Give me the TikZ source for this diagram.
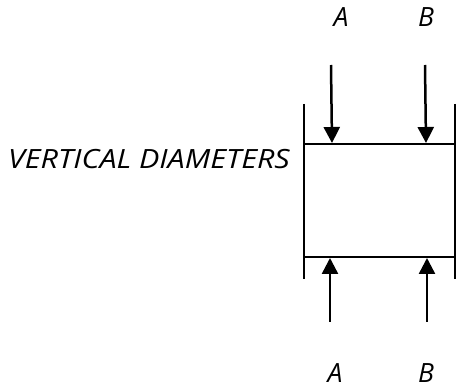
\documentclass[tikz,border=0pt]{standalone}
\usepackage{fontspec}
\setmainfont{Open Sans}
\newfontfamily\widefont[FakeStretch=1.15]{Open Sans}
\usetikzlibrary{arrows.meta}
\tikzset{
    lbl/.style={font=\itshape\fontsize{26.5}{30}\selectfont, inner sep=0pt, text depth=0pt, anchor=base},
    widelbl/.style={lbl, font=\widefont\itshape\fontsize{26.5}{30}\selectfont},
    wall/.style={line width=1.6pt},
    push/.style={line width=2.5pt, -{Triangle[width=16pt,length=16pt]}}
}

\begin{document}
\begin{tikzpicture}[x=1pt,y=-1pt]
    \useasboundingbox (0,0) rectangle (456,390);
    % box
    \draw[wall] (304,104) -- (304,279);
    \draw[wall] (455,104) -- (455,279);
    \draw[wall] (304,144) coordinate (tl) -- (456,144) coordinate (tr);
    \draw[wall] (304,257) coordinate (bl) -- (456,257) coordinate (br);

    % labels
    \node[widelbl, anchor=base east] (vd) at (290,169) {VERTICAL DIAMETERS};
    \node[lbl] (At) at (341,27) {A};
    \node[lbl] (Bt) at (426,27) {B};
    \node[lbl] (Ab) at (335,383) {A};
    \node[lbl] (Bb) at (426,383) {B};

    % top arrows
    \coordinate (a1) at (331,65); \coordinate (a2) at (332,143);
    \coordinate (b1) at (425,65); \coordinate (b2) at (426,143);
    \draw[push] (a1) -- (a2);
    \draw[push] (b1) -- (b2);
    % bottom arrows
    \coordinate (c1) at (330,322); \coordinate (c2) at (330,258);
    \coordinate (d1) at (427,322); \coordinate (d2) at (427,258);
    \draw[push] (c1) -- (c2);
    \draw[push] (d1) -- (d2);
\end{tikzpicture}
\end{document}
